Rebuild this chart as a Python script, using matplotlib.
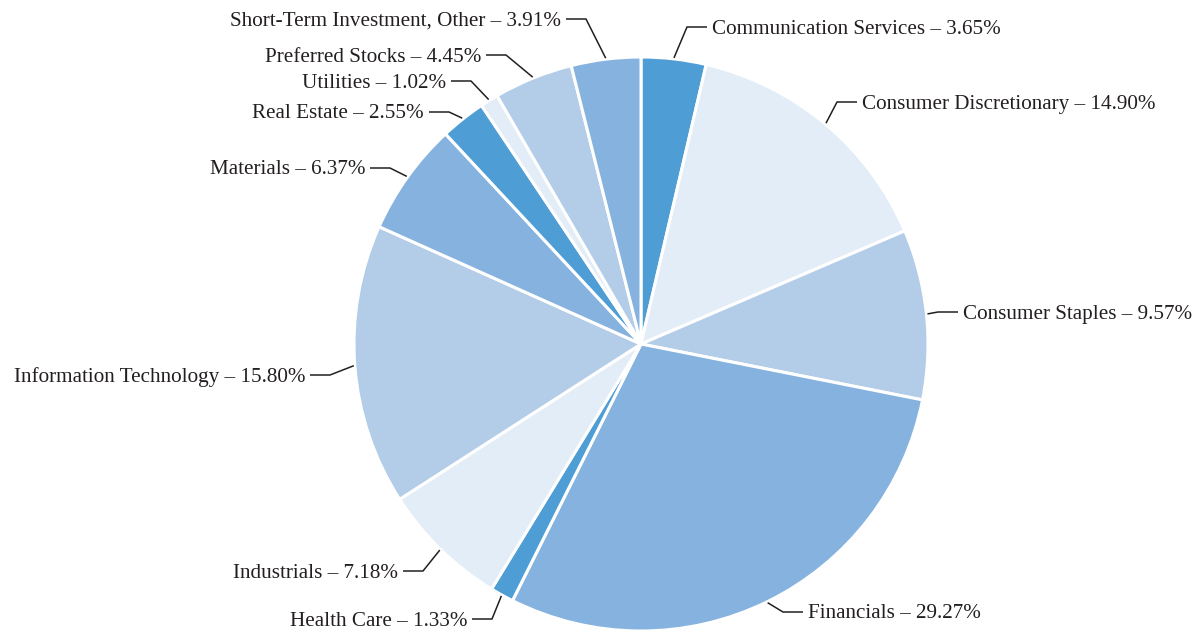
import numpy as np
import matplotlib
matplotlib.use("Agg")
import matplotlib.pyplot as plt

categories = ["Communication Services", "Consumer Discretionary", "Consumer Staples",
              "Financials", "Health Care", "Industrials", "Information Technology",
              "Materials", "Real Estate", "Utilities", "Preferred Stocks",
              "Short-Term Investment, Other"]
values = [3.65, 14.90, 9.57, 29.27, 1.33, 7.18, 15.80, 6.37, 2.55, 1.02, 4.45, 3.91]

c_dark, c_mid, c_light, c_vlight = "#4f9dd5", "#85b2de", "#b3cde8", "#e2edf7"
colors = [c_dark, c_vlight, c_light, c_mid, c_dark, c_vlight, c_light, c_mid,
          c_dark, c_vlight, c_light, c_mid]

# label layout in pixel coords (top-left origin): text anchor x, y, side
label_x = [712, 862, 963, 808, 467, 398, 305, 365, 424, 446, 481, 561]
label_y = [27, 102, 312, 612, 619, 571, 375, 168, 112, 81, 55, 19]
label_side = ["R", "R", "R", "R", "L", "L", "L", "L", "L", "L", "L", "L"]

W, H = 1199, 630
fig = plt.figure(figsize=(W / 100, H / 100), dpi=100)
ax = fig.add_axes([0, 0, 1, 1])

cx, cy, R = 641, H - 344, 287
wedges, _ = ax.pie(values, colors=colors, startangle=90, counterclock=False,
                   center=(cx, cy), radius=R, frame=True,
                   wedgeprops=dict(edgecolor="white", linewidth=2.2))
ax.set_xlim(0, W)
ax.set_ylim(0, H)
ax.set_aspect("equal")
ax.axis("off")

txt_color = "#231f20"
for w, cat, v, lx, ly, side in zip(wedges, categories, values, label_x, label_y, label_side):
    ang = np.deg2rad((w.theta1 + w.theta2) / 2)
    sx = cx + (R + 1) * np.cos(ang)
    sy = cy + (R + 1) * np.sin(ang)
    ty = H - ly
    if side == "R":
        ex, hx = lx - 25, lx - 5
        ha = "left"
    else:
        ex, hx = lx + 25, lx + 5
        ha = "right"
    ax.plot([sx, ex, hx], [sy, ty, ty], color="#231f20", lw=1.1, solid_capstyle="butt")
    ax.text(lx, ty - 2, f"{cat} – {v:.2f}%", ha=ha, va="center", fontsize=15.2,
            family="Liberation Serif", color=txt_color)

fig.savefig("out.png", dpi=100, facecolor="white")
